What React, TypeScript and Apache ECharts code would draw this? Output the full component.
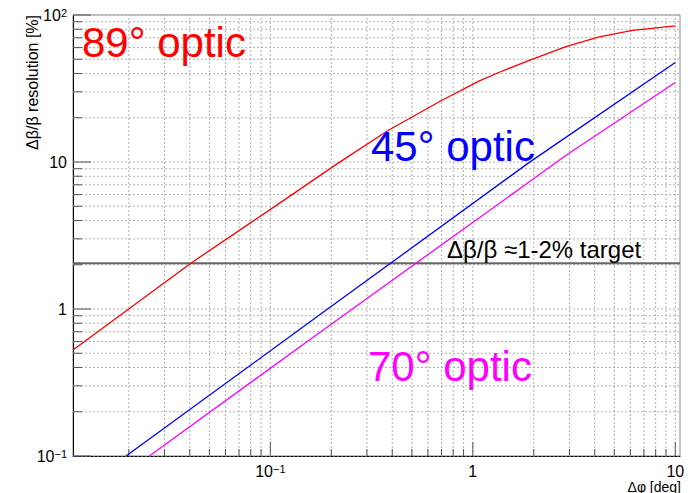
import React, { useEffect, useRef } from 'react';
import * as echarts from 'echarts';

const X_MIN = 0.0106;
const X_MAX = 10.55;
const Y_MIN = 0.1;
const Y_MAX = 100;

// 89° optic (red)
const red89X = [0.0106, 0.0405, 0.1107, 0.2125, 0.3796, 0.6966, 1.077, 1.352, 1.974, 2.885, 4.21, 6.15, 10];
const red89Y = [0.526, 2.05, 5.23, 9.67, 16.3, 26.1, 35.6, 40.8, 50.1, 61.0, 71.0, 78.5, 84.4];

// 45° optic (blue)
const blue45X = [0.01938, 0.1746, 1.901, 10];
const blue45Y = [0.1, 0.91, 9.94, 47.5];

// 70° optic (magenta)
const mag70X = [0.02527, 0.1746, 1.901, 2.938, 10];
const mag70Y = [0.1, 0.69, 7.33, 11.3, 34.7];

// target level line
const targetX = [X_MIN, X_MAX];
const targetY = [2.05, 2.05];

const decadesX = [0.01, 0.1, 1, 10];
const decadesY = [0.1, 1, 10, 100];
const multipliers = [1, 2, 3, 4, 5, 6, 7, 8, 9];

const xTickLabelValues = [0.1, 1, 10];
const xTickLabelTexts = ['{b|10}{s|\u22121}', '{b|1}', '{b|10}'];
const yTickLabelValues = [0.1, 1, 10, 100];
const yTickLabelTexts = ['{b|10}{s|\u22121}', '{b|1}', '{b|10}', '{b|10}{s|2}'];

const FONT = '"Liberation Sans", Arial, Helvetica, sans-serif';

function pair(xs: number[], ys: number[]) {
  return xs.map((x, i) => [x, ys[i]]);
}

function labelFor(values: number[], texts: string[], v: number) {
  for (let i = 0; i < values.length; i++) {
    if (Math.abs(Math.log10(v) - Math.log10(values[i])) < 1e-6) return texts[i];
  }
  return '';
}

function buildTicks() {
  const data: number[][] = [];
  decadesX.forEach((d) => {
    multipliers.forEach((m) => {
      const v = d * m;
      if (v >= X_MIN && v <= X_MAX) data.push([v, 1, 0, m === 1 ? 1 : 0]);
    });
  });
  decadesY.forEach((d) => {
    multipliers.forEach((m) => {
      const v = d * m;
      if (v >= Y_MIN && v <= Y_MAX) data.push([1, v, 1, m === 1 ? 1 : 0]);
    });
  });
  return data;
}

const richLabel = {
  b: { fontSize: 16, fontFamily: FONT, color: '#000', lineHeight: 16 },
  s: { fontSize: 11, fontFamily: FONT, color: '#000', lineHeight: 10, verticalAlign: 'top' },
};

export default function App() {
  const ref = useRef<HTMLDivElement>(null);

  useEffect(() => {
    if (!ref.current) return;
    const chart = echarts.init(ref.current, null, { renderer: 'svg' });
    const option: any = {
      animation: false,
      backgroundColor: '#fff',
      grid: {
        left: 73,
        right: 15,
        top: 15,
        bottom: 37,
        show: true,
        borderColor: '#8a8a8a',
        borderWidth: 1,
        backgroundColor: 'transparent',
      },
      xAxis: {
        type: 'log',
        logBase: 10,
        min: X_MIN,
        max: X_MAX,
        axisLine: { show: true, lineStyle: { color: '#000', width: 1 } },
        axisTick: { show: false },
        splitLine: { show: false },
        minorTick: { show: false },
        axisLabel: {
          margin: 7,
          formatter: (v: number) => labelFor(xTickLabelValues, xTickLabelTexts, v),
          rich: richLabel,
          showMinLabel: true,
          showMaxLabel: true,
        },
      },
      yAxis: {
        type: 'log',
        logBase: 10,
        min: Y_MIN,
        max: Y_MAX,
        axisLine: { show: true, lineStyle: { color: '#000', width: 1 } },
        axisTick: { show: false },
        splitLine: { show: false },
        minorTick: { show: false },
        axisLabel: {
          margin: 6,
          formatter: (v: number) => labelFor(yTickLabelValues, yTickLabelTexts, v),
          rich: richLabel,
        },
      },
      series: [
        {
          type: 'custom',
          coordinateSystem: 'cartesian2d',
          silent: true,
          z: 1,
          dimensions: ['x', 'y', 'kind', 'major'],
          encode: { x: 0, y: 1 },
          data: buildTicks(),
          renderItem: (params: any, api: any) => {
            const kind = api.value(2);
            const major = api.value(3) === 1;
            if (kind === 0) {
              const v = api.value(0);
              const p0 = api.coord([v, Y_MIN]);
              const p1 = api.coord([v, Y_MAX]);
              const len = major ? 14 : 7;
              return {
                type: 'group',
                children: [
                  {
                    type: 'line',
                    shape: { x1: p0[0], y1: p0[1], x2: p1[0], y2: p1[1] },
                    style: { stroke: '#b0b0b0', lineWidth: 1, lineDash: [2, 2] },
                  },
                  {
                    type: 'line',
                    shape: { x1: p0[0], y1: p0[1], x2: p0[0], y2: p0[1] - len },
                    style: { stroke: '#555', lineWidth: 1 },
                  },
                ],
              };
            }
            const v = api.value(1);
            const p0 = api.coord([X_MIN, v]);
            const p1 = api.coord([X_MAX, v]);
            const len = major ? 18 : 9;
            return {
              type: 'group',
              children: [
                {
                  type: 'line',
                  shape: { x1: p0[0], y1: p0[1], x2: p1[0], y2: p1[1] },
                  style: { stroke: '#b0b0b0', lineWidth: 1, lineDash: [2, 2] },
                },
                {
                  type: 'line',
                  shape: { x1: p0[0], y1: p0[1], x2: p0[0] + len, y2: p0[1] },
                  style: { stroke: '#555', lineWidth: 1 },
                },
              ],
            };
          },
        },
        {
          name: 'target',
          type: 'line',
          data: pair(targetX, targetY),
          showSymbol: false,
          z: 3,
          lineStyle: { color: '#666', width: 2 },
        },
        {
          name: '89° optic',
          type: 'line',
          data: pair(red89X, red89Y),
          showSymbol: false,
          smooth: false,
          z: 4,
          lineStyle: { color: '#ff0000', width: 1.3 },
        },
        {
          name: '45° optic',
          type: 'line',
          data: pair(blue45X, blue45Y),
          showSymbol: false,
          z: 4,
          lineStyle: { color: '#0000ff', width: 1.3 },
        },
        {
          name: '70° optic',
          type: 'line',
          data: pair(mag70X, mag70Y),
          showSymbol: false,
          z: 4,
          lineStyle: { color: '#ff00ff', width: 1.3 },
        },
      ],
      graphic: [
        {
          type: 'text',
          x: 82,
          y: 42,
          z: 10,
          style: { text: '89° optic', fill: '#ff0000', font: `42px ${FONT}`, verticalAlign: 'middle', align: 'left' },
        },
        {
          type: 'text',
          x: 371,
          y: 146,
          z: 10,
          style: { text: '45° optic', fill: '#0000ff', font: `42px ${FONT}`, verticalAlign: 'middle', align: 'left' },
        },
        {
          type: 'text',
          x: 368,
          y: 366,
          z: 10,
          style: { text: '70° optic', fill: '#ff00ff', font: `42px ${FONT}`, verticalAlign: 'middle', align: 'left' },
        },
        {
          type: 'text',
          x: 447,
          y: 249,
          z: 10,
          style: { text: 'Δβ/β ≈1-2% target', fill: '#000', font: `24px ${FONT}`, verticalAlign: 'middle', align: 'left' },
        },
        {
          type: 'text',
          x: 32,
          y: 15,
          rotation: Math.PI / 2,
          z: 10,
          style: { text: 'Δβ/β resolution [%]', fill: '#000', font: `16px ${FONT}`, verticalAlign: 'middle', align: 'right' },
        },
        {
          type: 'text',
          x: 681,
          y: 486.5,
          z: 10,
          style: { text: 'Δφ [deg]', fill: '#000', font: `14px ${FONT}`, verticalAlign: 'middle', align: 'right' },
        },
      ],
    };
    chart.setOption(option);
    return () => {
      chart.dispose();
    };
  }, []);

  return (
    <div
      ref={ref}
      style={{ position: 'fixed', left: 0, top: 0, width: 695, height: 493, background: '#fff' }}
    />
  );
}
